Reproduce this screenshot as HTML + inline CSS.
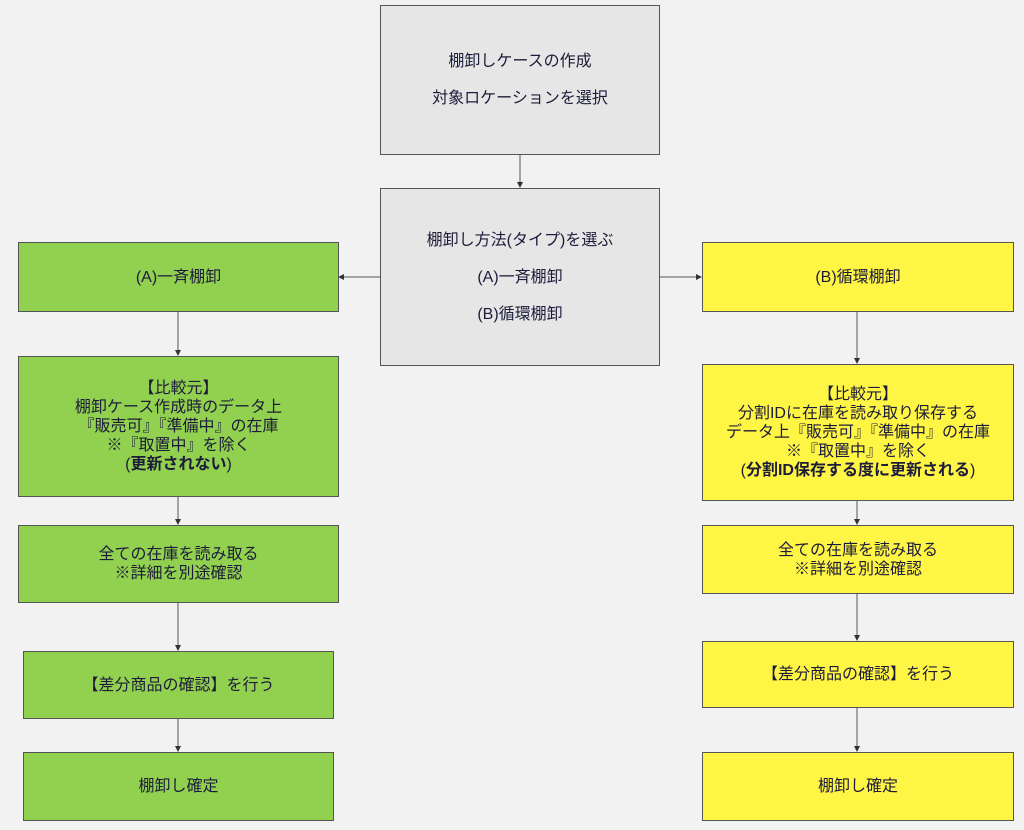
<!DOCTYPE html>
<html><head><meta charset="utf-8"><style>
body{margin:0;width:1024px;height:830px;background:#f2f2f2;position:relative;overflow:hidden;font-family:"Liberation Sans","Noto Sans CJK JP",sans-serif;color:#1c1c3a}
.b{position:absolute;box-sizing:border-box;border:1px solid #555;display:flex;flex-direction:column;align-items:center;justify-content:center;text-align:center;font-size:16px;line-height:19px}
.g{background:#e6e6e6}.gr{background:#92d04f}.y{background:#fff545}
.b p{margin:9px 0}
svg{position:absolute;left:0;top:0}
</style></head><body>
<svg width="1024" height="830">
<defs><marker id="a" markerWidth="6" markerHeight="6" refX="5" refY="3" orient="auto"><path d="M0,0L6,3L0,6z" fill="#333"/></marker></defs>
<g stroke="#555" stroke-width="1" marker-end="url(#a)">
<line x1="520" y1="155" x2="520" y2="187"/>
<line x1="380" y1="277" x2="339" y2="277"/>
<line x1="659" y1="277" x2="701" y2="277"/>
<line x1="178" y1="311" x2="178" y2="355"/>
<line x1="178" y1="496" x2="178" y2="524"/>
<line x1="178" y1="602" x2="178" y2="650"/>
<line x1="178" y1="718" x2="178" y2="751"/>
<line x1="857" y1="311" x2="857" y2="363"/>
<line x1="857" y1="500" x2="857" y2="524"/>
<line x1="857" y1="593" x2="857" y2="640"/>
<line x1="857" y1="707" x2="857" y2="751"/>
</g></svg>
<div class="b g" style="left:380px;top:5px;width:280px;height:150px"><p>棚卸しケースの作成</p><p>対象ロケーションを選択</p></div>
<div class="b g" style="left:380px;top:188px;width:280px;height:178px"><p>棚卸し方法(タイプ)を選ぶ</p><p>(A)一斉棚卸</p><p>(B)循環棚卸</p></div>
<div class="b gr" style="left:18px;top:242px;width:321px;height:70px">(A)一斉棚卸</div>
<div class="b gr" style="left:18px;top:356px;width:321px;height:141px"><div>【比較元】<br>棚卸ケース作成時のデータ上<br>『販売可』『準備中』の在庫<br>※『取置中』を除く<br>(<b>更新されない</b>)</div></div>
<div class="b gr" style="left:18px;top:525px;width:321px;height:78px"><div>全ての在庫を読み取る<br>※詳細を別途確認</div></div>
<div class="b gr" style="left:23px;top:651px;width:311px;height:68px">【差分商品の確認】を行う</div>
<div class="b gr" style="left:23px;top:752px;width:311px;height:69px">棚卸し確定</div>
<div class="b y" style="left:702px;top:242px;width:312px;height:70px">(B)循環棚卸</div>
<div class="b y" style="left:702px;top:364px;width:312px;height:137px"><div>【比較元】<br>分割IDに在庫を読み取り保存する<br>データ上『販売可』『準備中』の在庫<br>※『取置中』を除く<br>(<b>分割ID保存する度に更新される</b>)</div></div>
<div class="b y" style="left:702px;top:525px;width:312px;height:69px"><div>全ての在庫を読み取る<br>※詳細を別途確認</div></div>
<div class="b y" style="left:702px;top:641px;width:312px;height:67px">【差分商品の確認】を行う</div>
<div class="b y" style="left:702px;top:752px;width:312px;height:69px">棚卸し確定</div>
</body></html>
